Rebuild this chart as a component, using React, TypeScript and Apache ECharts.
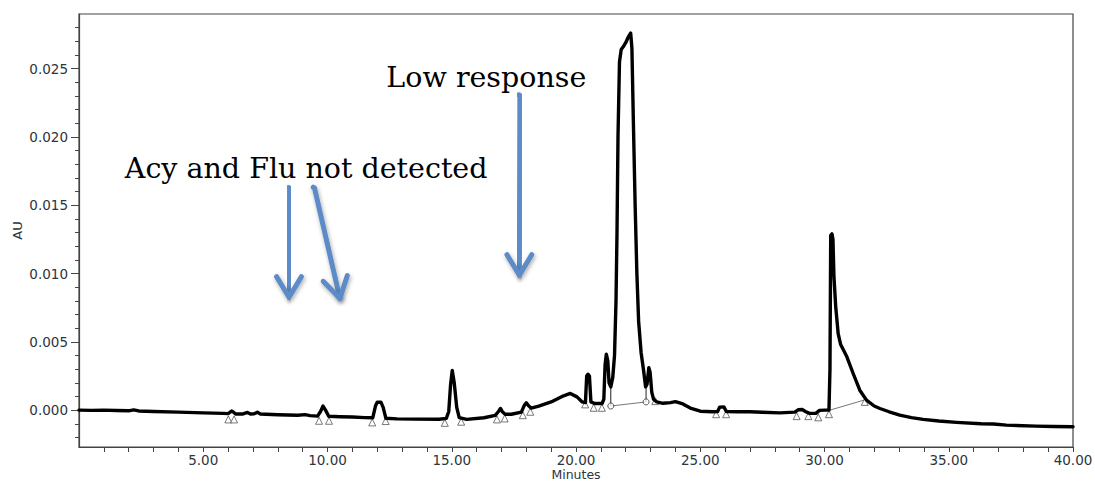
import React, { useEffect, useRef } from "react";
import * as echarts from "echarts";

// ---- chromatogram trace (minutes, AU) ----
const minutes = [
  0.0, 0.5, 1.0, 1.5, 2.0, 2.2, 2.4, 3.0, 4.0, 5.0, 5.8, 6.0, 6.1, 6.15, 6.22, 6.3, 6.6, 6.78, 6.9, 7.05,
  7.18, 7.3, 8.0, 8.8, 9.1, 9.3, 9.6, 9.72, 9.82, 9.92, 10.05, 10.5, 11.0, 11.5, 11.82, 11.93, 12.0, 12.15,
  12.24, 12.35, 12.8, 13.5, 14.5, 14.78, 14.88, 14.95, 15.02, 15.1, 15.2, 15.3, 15.6, 16.3, 16.75, 16.88,
  16.96, 17.04, 17.15, 17.4, 17.8, 17.92, 18.0, 18.1, 18.2, 18.5, 19.0, 19.5, 19.77, 20.04, 20.25, 20.38,
  20.43, 20.48, 20.54, 20.6, 20.75, 21.05, 21.12, 21.17, 21.22, 21.28, 21.33, 21.4, 21.48, 21.55, 21.61,
  21.65, 21.69, 21.75, 21.82, 21.9, 22.0, 22.1, 22.2, 22.25, 22.31, 22.38, 22.45, 22.52, 22.62, 22.72, 22.8,
  22.86, 22.93, 22.98, 23.05, 23.12, 23.25, 23.5, 23.8, 24.0, 24.3, 24.6, 25.0, 25.5, 25.7, 25.78, 25.95,
  26.05, 26.5, 27.0, 27.5, 28.2, 28.8, 28.95, 29.1, 29.25, 29.4, 29.65, 29.8, 30.0, 30.18, 30.22, 30.25,
  30.3, 30.34, 30.38, 30.45, 30.55, 30.65, 30.9, 31.15, 31.42, 31.69, 32.0, 32.23, 32.6, 33.03, 33.5, 33.97,
  34.6, 35.31, 36.3, 36.8, 37.32, 38.5, 39.2, 40.0,
];
const au = [
  0.0, -0.00002, 0.0, -0.00003, -0.00005, 0.00002, -0.00006, -0.0001, -0.00015, -0.0002, -0.00024, -0.00026,
  -0.00012, -0.00007, -0.00015, -0.00028, -0.00028, -0.00017, -0.00028, -0.00027, -0.00016, -0.00028,
  -0.00034, -0.00038, -0.00033, -0.0004, -0.00044, -0.0001, 0.0003, 0.0, -0.00045, -0.00048, -0.0005,
  -0.00055, -0.00056, 0.0003, 0.00058, 0.00058, 0.0002, -0.0006, -0.00064, -0.00066, -0.00067, -0.0006,
  -0.0001, 0.0018, 0.0029, 0.002, 0.0002, -0.00055, -0.00068, -0.00056, -0.00038, -0.0001, 0.00012,
  -0.00012, -0.0003, -0.0003, -0.00015, 0.00035, 0.00053, 0.0003, 0.00015, 0.0003, 0.0006, 0.00105, 0.00122,
  0.00097, 0.0006, 0.00055, 0.0025, 0.00263, 0.0025, 0.0006, 0.00048, 0.00048, 0.0008, 0.0033, 0.0041,
  0.0036, 0.002, 0.0017, 0.0024, 0.004, 0.008, 0.013, 0.02, 0.0255, 0.0264, 0.0266, 0.0269, 0.0273, 0.0276,
  0.0265, 0.021, 0.015, 0.01, 0.0065, 0.0042, 0.0029, 0.0017, 0.0019, 0.0031, 0.0028, 0.0013, 0.0008,
  0.0006, 0.0005, 0.00055, 0.00062, 0.00045, 0.00015, -0.00008, -0.00012, -0.0001, 0.00022, 0.00024,
  -0.0001, -0.00012, -0.00012, -0.00016, -0.0002, -0.00015, 0.00003, 0.00005, -0.00012, -0.00024, -0.00024,
  -0.00002, 0.0, 0.0, 0.003, 0.0128, 0.0129, 0.0125, 0.0098, 0.0076, 0.0056, 0.0048, 0.0039, 0.0027,
  0.00146, 0.00073, 0.0003, 0.00012, -0.00012, -0.00037, -0.00055, -0.00068, -0.0008, -0.0009, -0.001,
  -0.00102, -0.0011, -0.00117, -0.0012, -0.00122,
];

// ---- integration marks ----
const triangleMinutes = [
  6.01, 6.24, 9.66, 10.06, 11.8, 12.34, 14.72, 15.38, 16.82, 17.13, 17.86, 18.16, 20.37, 20.71, 21.04,
  23.19, 25.64, 26.04, 28.88, 29.35, 29.75, 30.18, 31.62,
];
const triangleAu = [
  -0.00068, -0.00068, -0.00078, -0.00078, -0.0009, -0.0008, -0.00093, -0.00085, -0.00068, -0.00061,
  -0.00037, -0.00012, 0.00042, 0.00017, 0.00017, 0.00066, -0.0003, -0.0003, -0.00044, -0.00044, -0.00053,
  -0.0003, 0.0006,
];
const circleMinutes = [21.4, 22.82];
const circleAu = [0.0003, 0.0006];
const dropTopAu = [0.0017, 0.0017];
const skimStartMinutes = [21.4, 30.22];
const skimStartAu = [0.0003, 0.0];
const skimEndMinutes = [22.82, 31.62];
const skimEndAu = [0.0006, 0.00075];

// ---- axes ----
const xMin = 0;
const xMax = 40;
const yMin = -0.0027;
const yMax = 0.029;
const xLabelValues = [5, 10, 15, 20, 25, 30, 35, 40];
const xMinorValues = [
  1, 2, 3, 4, 6, 7, 8, 9, 11, 12, 13, 14, 16, 17, 18, 19, 21, 22, 23, 24, 26, 27, 28, 29, 31, 32, 33, 34,
  36, 37, 38, 39,
];
const yLabelValues = [0, 0.005, 0.01, 0.015, 0.02, 0.025];
const yMinorValues = [
  -0.002, -0.001, 0.001, 0.002, 0.003, 0.004, 0.006, 0.007, 0.008, 0.009, 0.011, 0.012, 0.013, 0.014,
  0.016, 0.017, 0.018, 0.019, 0.021, 0.022, 0.023, 0.024, 0.026, 0.027, 0.028,
];

// ---- annotations (anchored in data coordinates) ----
const annotationTexts = ["Low response", "Acy and Flu not detected"];
const annotationMinutes = [16.39, 9.14];
const annotationAu = [0.02434, 0.01769];
const arrowStartMinutes = [8.45, 9.45, 17.72];
const arrowStartAu = [0.0163, 0.01632, 0.02308];
const arrowEndMinutes = [8.45, 10.5, 17.72];
const arrowEndAu = [0.00826, 0.00817, 0.00987];

const axisFont = "'DejaVu Sans', Verdana, sans-serif";
const axisColor = "#2e3440";
const arrowColor = "#5b8bc7";

export default function App() {
  const ref = useRef<HTMLDivElement>(null);

  useEffect(() => {
    if (!ref.current) return;
    const chart = echarts.init(ref.current, null, { renderer: "svg" });

    const trace = minutes.map((m, i) => [m, au[i]]);
    const triangles = triangleMinutes.map((m, i) => [m, triangleAu[i]]);
    const circles = circleMinutes.map((m, i) => [m, circleAu[i]]);

    const thinSeries: any[] = [];
    skimStartMinutes.forEach((m, i) => {
      thinSeries.push({
        type: "line",
        data: [
          [m, skimStartAu[i]],
          [skimEndMinutes[i], skimEndAu[i]],
        ],
        showSymbol: false,
        silent: true,
        lineStyle: { color: "#777", width: 1 },
        z: 1,
      });
    });
    circleMinutes.forEach((m, i) => {
      thinSeries.push({
        type: "line",
        data: [
          [m, dropTopAu[i]],
          [m, circleAu[i]],
        ],
        showSymbol: false,
        silent: true,
        lineStyle: { color: "#222", width: 1 },
        z: 1,
      });
    });

    const baseAxisY = {
      type: "value",
      min: yMin,
      max: yMax,
      position: "left",
      splitLine: { show: false },
    };
    const baseAxisX = {
      type: "value",
      min: xMin,
      max: xMax,
      position: "bottom",
      splitLine: { show: false },
    };

    chart.setOption({
      animation: false,
      backgroundColor: "#fff",
      grid: {
        left: 79,
        right: 22,
        top: 14,
        bottom: 34,
        outerBoundsMode: "none",
        containLabel: false,
        show: true,
        borderColor: "#444",
        borderWidth: 1.2,
      },
      xAxis: [
        {
          ...baseAxisX,
          name: "Minutes",
          nameLocation: "middle",
          nameGap: 21,
          nameMoveOverlap: false,
          nameTextStyle: { fontFamily: axisFont, fontSize: 12.5, lineHeight: 12.5, color: axisColor },
          axisLine: { show: true, onZero: false, lineStyle: { color: "#444", width: 1.2 } },
          axisTick: { show: true, customValues: xLabelValues, length: 5, lineStyle: { color: "#444" } },
          axisLabel: {
            customValues: xLabelValues,
            formatter: (v: number) => v.toFixed(2),
            fontFamily: axisFont,
            fontSize: 13.5,
            lineHeight: 13.5,
            color: axisColor,
            margin: 6,
          },
        },
        {
          ...baseAxisX,
          axisLine: { show: false, onZero: false },
          axisTick: { show: true, customValues: xMinorValues, length: 5, lineStyle: { color: "#444" } },
          axisLabel: { show: false },
        },
      ],
      yAxis: [
        {
          ...baseAxisY,
          name: "AU",
          nameLocation: "middle",
          nameGap: 55,
          nameMoveOverlap: false,
          nameTextStyle: { fontFamily: axisFont, fontSize: 13, color: axisColor },
          axisLine: { show: true, onZero: false, lineStyle: { color: "#444", width: 1.2 } },
          axisTick: { show: true, customValues: yLabelValues, length: 8, lineStyle: { color: "#444" } },
          axisLabel: {
            customValues: yLabelValues,
            formatter: (v: number) => v.toFixed(3),
            fontFamily: axisFont,
            fontSize: 13.5,
            color: axisColor,
            margin: 11,
          },
        },
        {
          ...baseAxisY,
          axisLine: { show: false, onZero: false },
          axisTick: { show: true, customValues: yMinorValues, length: 4, lineStyle: { color: "#444" } },
          axisLabel: { show: false },
        },
      ],
      series: [
        ...thinSeries,
        {
          type: "line",
          data: trace,
          showSymbol: false,
          silent: true,
          lineStyle: { color: "#000", width: 3.4, join: "round", cap: "round" },
          z: 3,
        },
        {
          type: "scatter",
          data: triangles,
          symbol: "triangle",
          symbolSize: 7,
          itemStyle: { color: "#fff", borderColor: "#444", borderWidth: 0.9 },
          z: 2,
        },
        {
          type: "scatter",
          data: circles,
          symbol: "circle",
          symbolSize: 6,
          itemStyle: { color: "#fff", borderColor: "#333", borderWidth: 1 },
          z: 4,
        },
      ],
    });

    const toPx = (m: number, v: number) =>
      chart.convertToPixel({ xAxisIndex: 0, yAxisIndex: 0 }, [m, v]) as number[];

    const graphics: any[] = [];
    const shadow = {
      shadowBlur: 4,
      shadowColor: "rgba(0,0,0,0.35)",
      shadowOffsetX: 1,
      shadowOffsetY: 2,
    };
    arrowStartMinutes.forEach((m, i) => {
      const a = toPx(m, arrowStartAu[i]);
      const b = toPx(arrowEndMinutes[i], arrowEndAu[i]);
      const dx = b[0] - a[0];
      const dy = b[1] - a[1];
      const len = Math.hypot(dx, dy);
      const ux = dx / len;
      const uy = dy / len;
      const headLen = 24;
      const ang = (31 * Math.PI) / 180;
      const rot = (x: number, y: number, t: number) => [
        x * Math.cos(t) - y * Math.sin(t),
        x * Math.sin(t) + y * Math.cos(t),
      ];
      const l = rot(-ux, -uy, ang);
      const r = rot(-ux, -uy, -ang);
      // tiny side step keeps the bounding box non-empty (SVG shadow filter needs it)
      graphics.push({
        type: "polyline",
        shape: {
          points: [
            [a[0] - 0.6, a[1]],
            [a[0] + 0.6, a[1] + 0.5],
            [b[0], b[1]],
          ],
        },
        style: { stroke: arrowColor, lineWidth: 5, lineCap: "round", lineJoin: "round", fill: null, ...shadow },
        z: 10,
      });
      graphics.push({
        type: "polyline",
        shape: {
          points: [
            [b[0] + l[0] * headLen, b[1] + l[1] * headLen],
            b,
            [b[0] + r[0] * headLen, b[1] + r[1] * headLen],
          ],
        },
        style: {
          stroke: arrowColor,
          lineWidth: 5,
          lineCap: "round",
          lineJoin: "round",
          fill: null,
          ...shadow,
        },
        z: 10,
      });
    });
    annotationTexts.forEach((t, i) => {
      const p = toPx(annotationMinutes[i], annotationAu[i]);
      graphics.push({
        type: "text",
        x: p[0],
        y: p[1],
        style: {
          text: t,
          fontFamily: "'DejaVu Serif', serif",
          fontSize: 28.5,
          fill: "#000",
          align: "center",
          verticalAlign: "middle",
        },
        z: 11,
      });
    });
    chart.setOption({ graphic: graphics });

    return () => chart.dispose();
  }, []);

  return (
    <div
      ref={ref}
      style={{ position: "fixed", left: 0, top: 0, width: 1095, height: 481, background: "#fff" }}
    />
  );
}
